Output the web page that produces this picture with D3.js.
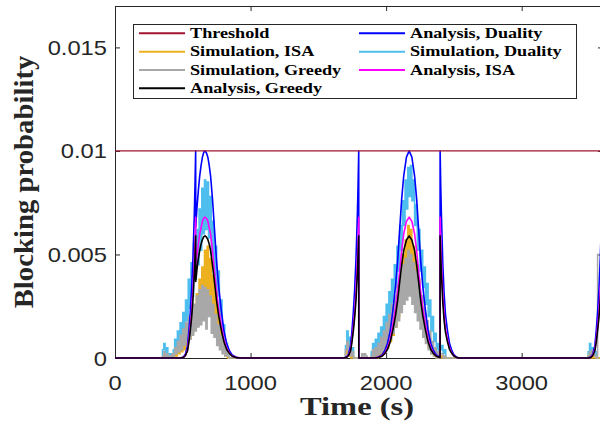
<!DOCTYPE html>
<html>
<head>
<meta charset="utf-8">
<script src="https://cdn.jsdelivr.net/npm/d3@7"></script>
<style>
  body { margin: 0; background: #fff; }
</style>
</head>
<body>
<div id="chart"></div>
<script>
// values are in units of 1e-4 (blocking probability)
var UNIT = 1e-4;

var xTicks = [0, 1000, 2000, 3000];
var yTicks = [0, 0.005, 0.01, 0.015];
var yTickLabels = ['0', '0.005', '0.01', '0.015'];
var threshold = 0.01;

// simulation traces, sampled every 10 s inside each burst (zero elsewhere)
var simStep = 10;
var simStart = [340, 1690, 1810, 1880, 3480];
var simDuality = [
  [0,4,7,1,5,2,0,2,1,4, 9,5,13,7,17,10,22,13,28,18, 38,24,46,30,55,38,62,45,72,52,
   82,60,86,62,85,58,78,50,66,40, 54,30,42,20,28,10,16,4,7,1, 0],
  [0,6,13,4,10,2,5,0],
  [0,0,0,0,0,0],
  [0,3,7,2,9,4,12,6,15,9, 20,12,26,16,32,21,38,27,45,34, 54,42,64,52,76,64,86,72,92,78,
   93,76,86,64,74,52,62,42,52,34, 44,26,36,20,28,13,20,8,12,4, 7,2,4,6,2,4,0],
  [0,3,7,2,5,1,3,0,0,0,0,0]
];
var simISA = [
  [0,0,1,0,1,0,0,0,0,1, 2,1,4,2,6,3,8,4,11,6, 15,9,20,12,25,15,31,19,38,24,
   44,28,52,32,54,30,48,26,40,20, 32,14,22,8,14,4,7,1,3,0, 0],
  [0,2,6,1,3,0,1,0],
  [0,0,0,0,0,0],
  [0,0,1,0,2,0,3,1,5,2, 7,3,10,5,14,8,19,11,25,15, 32,20,40,28,50,36,57,44,64,50,
   62,44,54,36,46,28,38,20,30,14, 22,9,15,5,9,2,5,1,2,0, 1,0,0,1,0,0,0],
  [0,1,2,0,1,0,0,0,0,0,0,0]
];
var simGreedy = [
  [0,1,3,0,2,0,1,0,2,1, 5,2,8,3,11,4,14,6,17,8, 20,9,23,11,26,13,30,15,33,16,
   35,18,34,14,33,20,30,12,26,10, 21,6,16,4,11,2,7,1,4,1, 0],
  [0,4,8,2,6,1,3,0],
  [0,2,1,2,1,0],
  [0,1,4,0,5,1,7,2,10,3, 13,5,17,7,21,9,26,12,30,15, 35,18,40,22,45,26,48,28,52,30,
   50,26,46,22,42,18,36,14,30,10, 24,7,18,4,13,2,8,1,5,0, 3,0,2,2,0,1,0],
  [0,1,3,1,4,2,1,0,50,50,50,50]
];

// analysis curves
var anaTime = [
  0,400,485,505,520,535,545,555,565,575,585,590,595,595.5,605,615,625,635,645,655,664,
  675,685,695,705,719,734,749,764,784,804,824,844,864,894,924,
  1688,1708,1723,1738,1748,1758,1768,1778,1788,1793,1798,1798.5,
  1910,1940,1970,1990,2010,2030,2050,2070,2085,2100,2115,2130,2150,2170,2190,2210,2225,
  2240,2255,2270,2290,2310,2330,2350,2370,2398,
  2398.5,2403,2408,2418,2428,2438,2453,2468,2483,2498,2518,2538,
  3490,3510,3525,3540,3550,3560,3570,3580,3590,3595,3600
];
var anaDuality = [
  0,0,0,0.5,2,6,13,22,33,48,69,83,100,63,73,81,88,93,97,99.4,100,
  99,97,93,88,77,62,47,35,23,13,7,3.5,1.5,0.4,0,
  0,0.5,2,6,13,22,33,48,69,83,100,0,
  0,0.4,1.5,3.5,7,13,23,35,47,62,77,88,97,100,97,88,77,
  62,47,35,23,13,7,3.5,1.5,0.4,
  100,83,69,46,31,21,13,7,4,1.8,0.5,0,
  0,0.5,2,6,13,22,33,48,69,83,100
];
var anaISA = [
  0,0,0,0.3,1.4,4,9,15,22,33,47,56,68,43,50,55,60,63,66,67.6,68,
  67.3,66,63,60,52,42,32,24,16,9,4.8,2.4,1,0.3,0,
  0,0.3,1.4,4,9,15,22,33,47,56,68,0,
  0,0.3,1,2.4,4.8,9,16,24,32,42,52,60,66,68,66,60,52,
  42,32,24,16,9,4.8,2.4,1,0.3,
  68,56,47,31,21,14,9,4.8,2.7,1.2,0.3,0,
  0,0.3,1.4,4,9,15,22,33,47,56,68
];
var anaGreedy = [
  0,0,0,0.3,1.2,3.5,7.7,13,19.5,28,41,49,59,37,43,48,52,55,57.2,58.6,59,
  58.4,57.2,55,52,45,36.6,27.7,20.7,13.6,7.7,4.1,2.1,0.9,0.2,0,
  0,0.3,1.2,3.5,7.7,13,19.5,28,41,49,59,0,
  0,0.2,0.9,2.1,4.1,7.7,13.6,20.7,27.7,36.6,45,52,57,59,57,52,45,
  36.6,27.7,20.7,13.6,7.7,4.1,2.1,0.9,0.2,
  59,49,41,27,18,12.4,7.7,4.1,2.4,1.1,0.3,0,
  0,0.3,1.2,3.5,7.7,13,19.5,28,41,49,59
];

var legendItems = [
  ['Threshold', '#A2142F'],
  ['Simulation, ISA', '#EDB120'],
  ['Simulation, Greedy', '#A8A8A8'],
  ['Analysis, Greedy', '#000000'],
  ['Analysis, Duality', '#0000FF'],
  ['Simulation, Duality', '#4DBEEE'],
  ['Analysis, ISA', '#FF00FF']
];

(function() {
var W = 600, H = 425;
var pl = 115, pr = 603, pt = 6, pb = 358;
var axisColor = '#262626';

var x = d3.scaleLinear().domain([0, 3600]).range([pl, pr]);
var y = d3.scaleLinear().domain([0, 0.017]).range([pb, pt]);

var svg = d3.select('#chart').append('svg')
  .attr('width', W)
  .attr('height', H)
  .style('background', '#fff');

svg.append('defs').append('clipPath').attr('id', 'plotclip')
  .append('rect')
  .attr('x', pl - 1).attr('y', pt)
  .attr('width', pr - pl + 1).attr('height', pb - pt + 2);

// axes box with inward ticks
function styleAxis(g) {
  g.selectAll('path, line').attr('stroke', axisColor).attr('stroke-width', 1);
  g.selectAll('text').remove();
}
svg.append('g').attr('transform', 'translate(0,' + pb + ')')
  .call(d3.axisBottom(x).tickValues(xTicks).tickSize(-5).tickSizeOuter(0)).call(styleAxis);
svg.append('g').attr('transform', 'translate(0,' + pt + ')')
  .call(d3.axisTop(x).tickValues(xTicks).tickSize(-5).tickSizeOuter(0)).call(styleAxis);
svg.append('g').attr('transform', 'translate(' + pl + ',0)')
  .call(d3.axisLeft(y).tickValues(yTicks).tickSize(-5).tickSizeOuter(0)).call(styleAxis);
svg.append('g').attr('transform', 'translate(' + pr + ',0)')
  .call(d3.axisRight(y).tickValues(yTicks).tickSize(-5).tickSizeOuter(0)).call(styleAxis);

// tick labels (Helvetica-like, stretched like the original figure)
svg.append('g').selectAll('text').data(xTicks).enter().append('text')
  .attr('transform', function(d) { return 'translate(' + x(d) + ',390) scale(1.13,1)'; })
  .attr('text-anchor', 'middle')
  .attr('font-family', 'Liberation Sans, Arial, sans-serif')
  .attr('font-size', 21)
  .attr('fill', axisColor)
  .text(function(d) { return d; });

svg.append('g').selectAll('text').data(yTicks).enter().append('text')
  .attr('transform', function(d) { return 'translate(107,' + (y(d) + 7.5) + ') scale(1.13,1)'; })
  .attr('text-anchor', 'end')
  .attr('font-family', 'Liberation Sans, Arial, sans-serif')
  .attr('font-size', 21)
  .attr('fill', axisColor)
  .text(function(d, i) { return yTickLabels[i]; });

// axis titles
svg.append('text')
  .attr('transform', 'translate(357,415) scale(1.3,1)')
  .attr('text-anchor', 'middle')
  .attr('font-family', 'Liberation Serif, Times New Roman, serif')
  .attr('font-weight', 'bold')
  .attr('font-size', 25)
  .attr('fill', axisColor)
  .text('Time (s)');

svg.append('text')
  .attr('transform', 'translate(33,182) rotate(-90) scale(1.15,1.13)')
  .attr('text-anchor', 'middle')
  .attr('font-family', 'Liberation Serif, Times New Roman, serif')
  .attr('font-weight', 'bold')
  .attr('font-size', 25)
  .attr('fill', axisColor)
  .text('Blocking probability');

// data
var plot = svg.append('g').attr('clip-path', 'url(#plotclip)');

function simPoints(bursts) {
  var pts = [[0, 0]];
  bursts.forEach(function(vals, i) {
    vals.forEach(function(v, j) { pts.push([simStart[i] + j * simStep, v]); });
  });
  return pts;
}
function anaPoints(vals) {
  return anaTime.map(function(t, i) { return [t, vals[i]]; });
}

var simLine = d3.line()
  .x(function(d) { return x(d[0]); })
  .y(function(d) { return y(d[1] * UNIT); })
  .curve(d3.curveStepAfter);
var anaLine = d3.line()
  .x(function(d) { return x(d[0]); })
  .y(function(d) { return y(d[1] * UNIT); });

[[simDuality, '#4DBEEE'], [simISA, '#EDB120'], [simGreedy, '#A8A8A8']].forEach(function(s) {
  plot.append('path')
    .attr('d', simLine(simPoints(s[0])))
    .attr('fill', 'none')
    .attr('stroke', s[1])
    .attr('stroke-width', 1.5);
});

[[anaDuality, '#0000FF'], [anaISA, '#FF00FF'], [anaGreedy, '#000000']].forEach(function(s) {
  plot.append('path')
    .attr('d', anaLine(anaPoints(s[0])))
    .attr('fill', 'none')
    .attr('stroke', s[1])
    .attr('stroke-width', 1.6)
    .attr('stroke-linejoin', 'round');
});

plot.append('line')
  .attr('x1', x(0)).attr('x2', x(3600))
  .attr('y1', y(threshold)).attr('y2', y(threshold))
  .attr('stroke', '#A2142F')
  .attr('stroke-width', 1.3);

// legend
var legend = svg.append('g');
legend.append('rect')
  .attr('x', 133.5).attr('y', 24.5)
  .attr('width', 443).attr('height', 74)
  .attr('fill', '#fff')
  .attr('stroke', axisColor)
  .attr('stroke-width', 1);

var rows = legend.selectAll('g.item').data(legendItems).enter().append('g')
  .attr('class', 'item')
  .attr('transform', function(d, i) {
    var col = i < 4 ? 0 : 1, row = i < 4 ? i : i - 4;
    return 'translate(' + (col === 0 ? 139 : 359) + ',' + (33.3 + row * 18.35) + ')';
  });
rows.append('line')
  .attr('x1', 0).attr('x2', 46)
  .attr('stroke', function(d) { return d[1]; })
  .attr('stroke-width', 2);
rows.append('text')
  .attr('transform', 'translate(51,4.8) scale(1.3,1)')
  .attr('font-family', 'Liberation Serif, Times New Roman, serif')
  .attr('font-weight', 'bold')
  .attr('font-size', 14)
  .attr('fill', '#000')
  .text(function(d) { return d[0]; });
})();
</script>
</body>
</html>
